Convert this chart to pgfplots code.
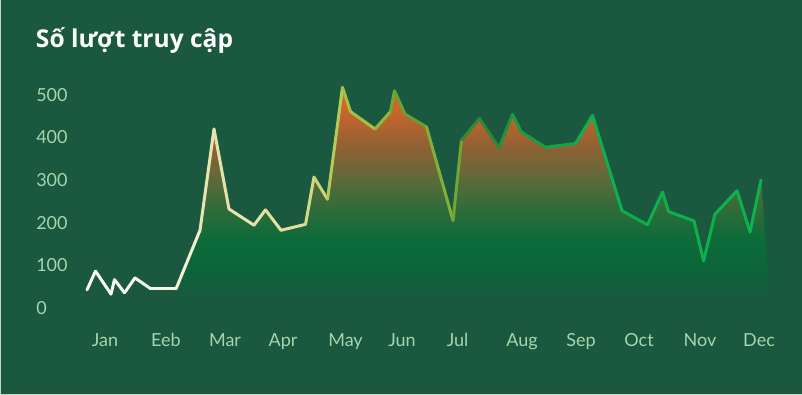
\documentclass[border=0pt]{standalone}
\usepackage{fontspec}
\setmainfont{Lato}
\newfontfamily\titlefont{Open Sans}
\usepackage{pgfplots}
\pgfplotsset{compat=1.18}
\definecolor{bg}{RGB}{26,88,64}
\definecolor{tickc}{RGB}{166,212,172}
\definecolor{borderc}{RGB}{196,216,202}
\definecolor{f0}{RGB}{26,88,64}
\definecolor{f1}{RGB}{21,92,62}
\definecolor{f2}{RGB}{12,100,57}
\definecolor{f3}{RGB}{12,107,58}
\definecolor{f4}{RGB}{46,108,58}
\definecolor{f5}{RGB}{92,106,58}
\definecolor{f6}{RGB}{138,98,52}
\definecolor{f7}{RGB}{210,100,44}
\definecolor{f8}{RGB}{226,102,42}
\pgfdeclareverticalshading{fillgrad}{100bp}{color(0bp)=(f0); color(25bp)=(f0); color(29bp)=(f1); color(33.5bp)=(f2); color(40.4bp)=(f3); color(47.2bp)=(f4); color(54bp)=(f5); color(60.7bp)=(f6); color(70.9bp)=(f7); color(75bp)=(f8); color(100bp)=(f8)}
\pgfplotsset{colormap={linegrad}{rgb255(80pt)=(255,255,255) rgb255(190pt)=(246,244,228) rgb255(260pt)=(238,236,200) rgb255(350pt)=(226,224,160) rgb255(400pt)=(210,216,130) rgb255(440pt)=(192,208,100) rgb255(520pt)=(160,192,62) rgb255(550pt)=(126,174,56) rgb255(570pt)=(96,156,48) rgb255(600pt)=(56,138,52) rgb255(630pt)=(40,136,58) rgb255(670pt)=(20,160,68) rgb255(720pt)=(12,176,76) rgb255(880pt)=(12,180,78)}}
\begin{document}
\begin{tikzpicture}
\useasboundingbox (0pt,0pt) rectangle (601.5pt,296.25pt);
\fill[bg] (0pt,0pt) rectangle (601.5pt,296.25pt);
\begin{axis}[
  at={(0pt,0pt)}, anchor=south west,
  scale only axis, width=601.5pt, height=296.25pt,
  xmin=0, xmax=802, ymin=-205.2, ymax=723.3,
  axis line style={draw=none},
  major tick length=0pt,
  tick style={draw=none},
  /pgf/number format/assume math mode=true,
  ytick={0,100,200,300,400,500},
  yticklabel style={anchor=west, inner sep=0pt, xshift=27pt, text=tickc, font=\fontsize{13.5}{16}\selectfont},
  xtick={105,166,225,283,345.5,402,457.6,522,581,639,700,759},
  xticklabels={Jan,Eeb,Mar,Apr,May,Jun,Jul,Aug,Sep,Oct,Nov,Dec},
  xticklabel style={anchor=base, inner sep=0pt, yshift=36pt, text=tickc, font=\fontsize{13.5}{16}\selectfont},
]
\addplot[draw=none, shading=fillgrad] coordinates {
(176,44) (200,182) (214,420) (229,232) (254,194) (265.5,230) (281,182) (305.5,196) (314,307) (327.5,255) (342.5,518) (350.5,461) (375,420) (390.5,461) (394.5,510) (405,455) (426.5,425) (453,205) (461.5,394) (479.5,445) (499,376) (512.5,455) (521,414) (545.5,377) (575.5,386) (592.5,452) (622,228) (647.5,195) (662.5,272) (668.5,226) (694,204) (703.5,110) (715,220) (737,275) (750,178) (761,300) (771,0)
} \closedcycle;
\addplot[mesh, colormap name=linegrad, point meta={x+0.3403*y}, point meta min=80, point meta max=880, line width=2.25pt, line cap=round, line join=round] coordinates {
(87,42) (95.5,86) (111,32) (114.5,66) (124.5,35) (135,70) (151,44) (176,44) (200,182) (214,420) (229,232) (254,194) (265.5,230) (281,182) (305.5,196) (314,307) (327.5,255) (342.5,518) (350.5,461) (375,420) (390.5,461) (394.5,510) (405,455) (426.5,425) (453,205) (461.5,394) (479.5,445) (499,376) (512.5,455) (521,414) (545.5,377) (575.5,386) (592.5,452) (622,228) (647.5,195) (662.5,272) (668.5,226) (694,204) (703.5,110) (715,220) (737,275) (750,178) (761,300)
};
\end{axis}
\draw[borderc, line width=0.75pt] (0.375pt,296.25pt) -- (0.375pt,0.375pt) -- (601.5pt,0.375pt);
\node[anchor=base west, inner sep=0pt, text=white, font=\titlefont\fontsize{18.4}{22}\selectfont\bfseries] at (26.8pt,260.25pt) {Số lượt truy cập};
\end{tikzpicture}
\end{document}
